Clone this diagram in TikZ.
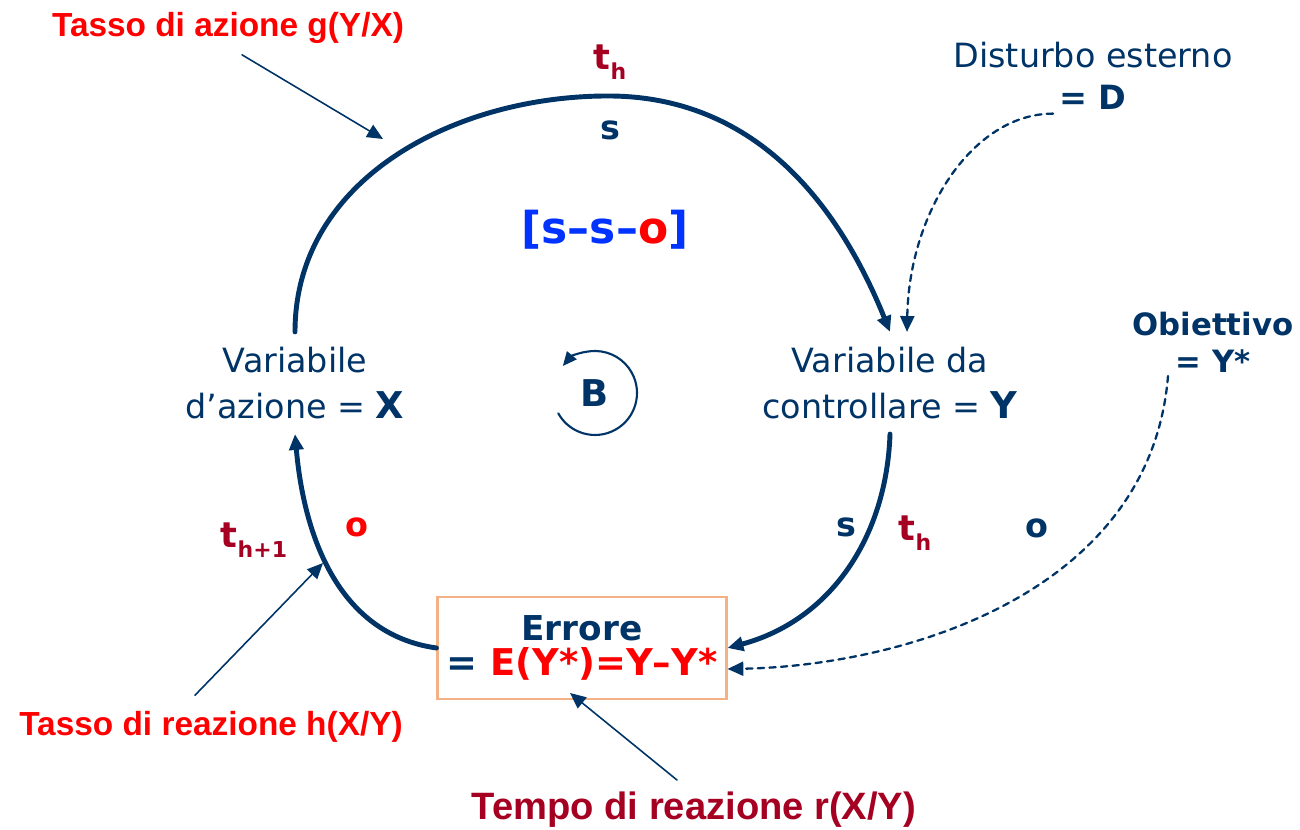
\documentclass[tikz,border=0pt]{standalone}
\usepackage{fontspec}
\setmainfont{DejaVu Sans}
\newfontfamily\arialfont{Liberation Sans}
\usetikzlibrary{arrows.meta}

\definecolor{navy}{RGB}{0,51,102}
\definecolor{darkred}{RGB}{165,0,33}
\definecolor{brightblue}{RGB}{0,51,255}
\definecolor{boxorange}{RGB}{244,177,131}

\newcommand{\tsub}[1]{t\raisebox{-0.28em}{\fontsize{12.5}{14}\selectfont #1}}

\begin{document}
\begin{tikzpicture}[x=0.02cm, y=0.02cm, >={Triangle[length=9pt,width=8pt]}, line cap=round,
    loop/.style={navy, line width=2.8pt, ->},
    hint/.style={navy, line width=0.9pt, ->},
    feed/.style={navy, line width=1.3pt, dash pattern=on 3.6pt off 3pt, ->},
    var/.style={navy, align=center, font=\fontsize{19}{26}\selectfont, inner sep=0.3cm},
    rate/.style={red, font=\arialfont\bfseries\fontsize{19}{23}\selectfont},
    tag/.style={font=\bfseries\fontsize{19}{23}\selectfont},
    tlabel/.style={darkred, font=\bfseries\fontsize{20}{24}\selectfont}]
    \useasboundingbox (0,0) rectangle (1300,830);

    % Variables
    \node[var] (varX) at (295,447) {Variabile\\d’azione = {\bfseries\fontsize{21}{26}\selectfont X}};
    \node[var] (varY) at (890,447) {Variabile da\\controllare = {\bfseries\fontsize{21}{26}\selectfont Y}};

    % Error box
    \node[draw=boxorange, line width=1.2pt, minimum width=5.78cm, minimum height=2.04cm,
          align=center, text=navy, font=\bfseries\fontsize{19.5}{20}\selectfont] (errore) at (582,182)
          {Errore\\{\fontsize{21}{20}\selectfont = \textcolor{red}{E(Y*)=Y–Y*}}};

    % External inputs
    \node[navy, align=center, font=\fontsize{19}{24}\selectfont, inner sep=2pt] (dist) at (1093,754)
          {Disturbo esterno\\{\bfseries = D}};
    \node[navy, align=center, font=\bfseries\fontsize{17.5}{21}\selectfont, inner sep=2pt] (obj) at (1213,488)
          {Obiettivo\\= Y*};

    % Rate labels
    \node[rate] (rateG) at (228,802) {Tasso di azione g(Y/X)};
    \node[rate] (rateH) at (211,103) {Tasso di reazione h(X/Y)};
    \node[rate, darkred, font=\arialfont\bfseries\fontsize{21.7}{26}\selectfont] (timeR) at (694,20)
          {Tempo di reazione r(X/Y)};

    % Link signs and times
    \node[tlabel] (thTop) at (610,768) {\tsub{h}};
    \node[tag, navy] (sTop) at (610,700) {s};
    \node[brightblue, font=\bfseries\fontsize{25}{30}\selectfont] (sso) at (605,600) {[s–s–\textcolor{red}{o}]};
    \node[tlabel] (thNext) at (254,290) {\tsub{h+1}};
    \node[tag, red] (oLeft) at (357,303) {o};
    \node[tag, navy] (sRight) at (846,303) {s};
    \node[tlabel] (thRight) at (915,297) {\tsub{h}};
    \node[tag, navy] (oRight) at (1037,302) {o};

    % Balancing loop
    \node[navy, font=\bfseries\fontsize{21}{25}\selectfont] (bal) at (595,437) {B};
    \draw[navy, line width=1.2pt, -{Triangle[length=8pt,width=7pt]}]
        ([shift={(209:0.84cm)}]bal.center) arc[start angle=209, end angle=500, radius=0.84cm];

    % Loop arcs
    \coordinate (top) at (608,734);
    \draw[loop] (varX.north) to[out=90, in=180] (top) to[out=0, in=112] (varY.north);
    \draw[loop] (varY.south) to[out=-92, in=15] (errore.east);
    \draw[loop] (errore.west) to[out=172, in=-85] (varX.south);

    % Pointers to the arcs
    \coordinate (gTip) at (383,691);
    \coordinate (hTip) at (323,267);
    \coordinate (rTip) at (570,137);
    \draw[hint] ([shift={(0.28cm,-0.1cm)}]rateG.south) -- (gTip);
    \draw[hint] ([shift={(-0.32cm,0.2cm)}]rateH.north) -- (hTip);
    \draw[hint] ([shift={(-0.34cm,0.12cm)}]timeR.north) -- (rTip);

    % Dashed inputs
    \draw[feed] ([xshift=-0.8cm]dist.south) .. controls +(-80,0) and +(2,120) .. ([xshift=0.34cm]varY.north);
    \draw[feed] ([xshift=-0.9cm]obj.south) .. controls +(-18,-220) and +(171,3) .. ([yshift=-0.42cm]errore.east);
\end{tikzpicture}
\end{document}
